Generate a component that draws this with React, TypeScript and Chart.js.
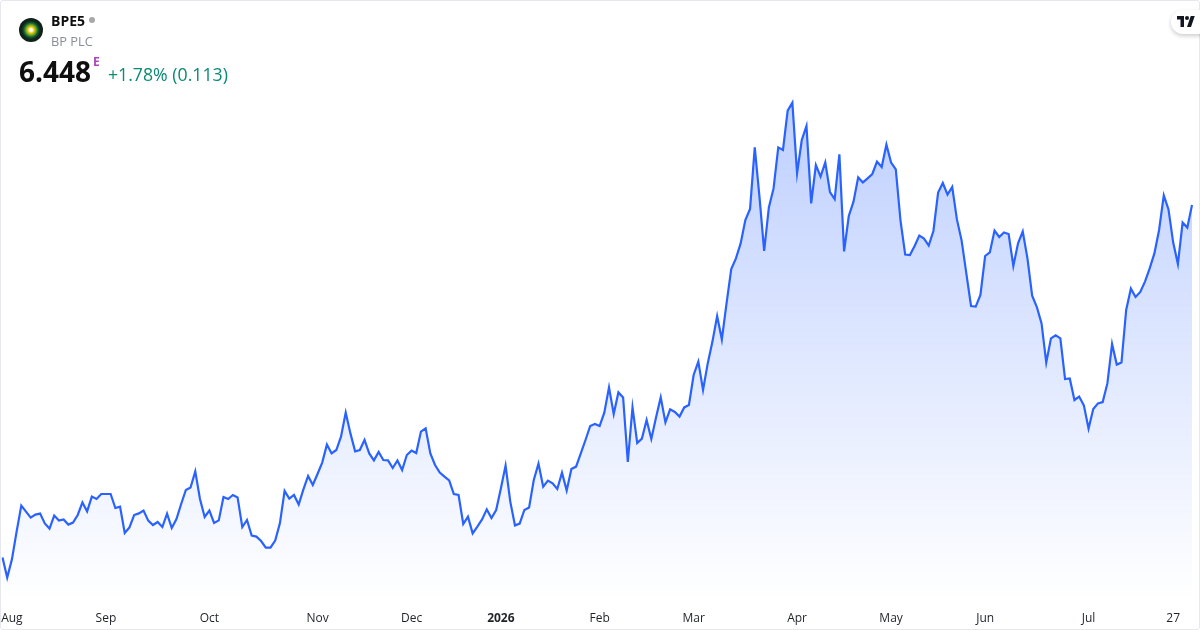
import React, { useEffect, useRef } from "react";
import { Chart, registerables } from "chart.js";

Chart.register(...registerables);

const closePrices = [
  4.686, 4.585, 4.676, 4.815, 4.945, 4.915, 4.885, 4.900, 4.905, 4.856, 4.830, 4.895, 4.870, 4.876, 4.850, 4.860,
  4.898, 4.961, 4.916, 4.990, 4.978, 5.003, 5.003, 5.003, 4.933, 4.940, 4.808, 4.836, 4.898, 4.906, 4.920, 4.870,
  4.848, 4.863, 4.838, 4.905, 4.833, 4.878, 4.953, 5.023, 5.035, 5.116, 4.978, 4.888, 4.920, 4.858, 4.871, 4.988,
  4.978, 4.998, 4.986, 4.838, 4.873, 4.795, 4.790, 4.768, 4.735, 4.735, 4.770, 4.856, 5.018, 4.980, 4.998, 4.950,
  5.026, 5.093, 5.048, 5.103, 5.160, 5.250, 5.206, 5.223, 5.290, 5.410, 5.306, 5.216, 5.223, 5.273, 5.206, 5.171,
  5.213, 5.173, 5.171, 5.133, 5.171, 5.123, 5.198, 5.220, 5.208, 5.315, 5.331, 5.206, 5.148, 5.110, 5.090, 5.071,
  5.003, 4.998, 4.853, 4.890, 4.806, 4.840, 4.876, 4.926, 4.883, 4.923, 5.031, 5.145, 4.965, 4.846, 4.855, 4.923,
  4.935, 5.073, 5.155, 5.040, 5.070, 5.056, 5.028, 5.110, 5.020, 5.128, 5.140, 5.206, 5.273, 5.343, 5.353, 5.343,
  5.410, 5.536, 5.403, 5.511, 5.486, 5.163, 5.436, 5.258, 5.280, 5.373, 5.278, 5.385, 5.486, 5.361, 5.426, 5.413,
  5.390, 5.436, 5.448, 5.598, 5.665, 5.523, 5.656, 5.765, 5.893, 5.776, 5.956, 6.128, 6.181, 6.256, 6.373, 6.428,
  6.736, 6.490, 6.218, 6.436, 6.531, 6.736, 6.723, 6.920, 6.960, 6.606, 6.773, 6.843, 6.456, 6.648, 6.590, 6.661,
  6.513, 6.478, 6.701, 6.216, 6.393, 6.465, 6.586, 6.561, 6.581, 6.603, 6.665, 6.638, 6.750, 6.660, 6.626, 6.370,
  6.200, 6.198, 6.243, 6.295, 6.280, 6.245, 6.318, 6.510, 6.558, 6.500, 6.538, 6.376, 6.270,
  6.106, 5.943, 5.940, 5.998, 6.193, 6.211, 6.320, 6.288, 6.311, 6.303, 6.143, 6.256, 6.315, 6.181, 5.995, 5.938,
  5.856, 5.660, 5.781, 5.796, 5.781, 5.578, 5.581, 5.473, 5.490, 5.446, 5.330, 5.428, 5.456, 5.463, 5.556, 5.753,
  5.650, 5.660, 5.923, 6.030, 5.988, 6.013, 6.065, 6.131, 6.206, 6.323, 6.496, 6.426, 6.260, 6.153, 6.360, 6.335,
  6.448,
];
const tickIndices = [2, 22, 44, 67, 87, 106, 127, 147, 169, 189, 209, 231, 249];
const tickLabels = ["Aug", "Sep", "Oct", "Nov", "Dec", "2026", "Feb", "Mar", "Apr", "May", "Jun", "Jul", "27"];
const boldTicks = ["2026"];

const FONT = '"Open Sans", "Noto Sans", sans-serif';

export default function App() {
  const ref = useRef<HTMLCanvasElement | null>(null);

  useEffect(() => {
    const canvas = ref.current;
    if (!canvas) return;
    const categories = closePrices.map((_, i) => {
      const t = tickIndices.indexOf(i);
      return t >= 0 ? tickLabels[t] : "";
    });
    const chart = new Chart(canvas, {
      type: "line",
      data: {
        labels: categories,
        datasets: [
          {
            data: closePrices,
            borderColor: "#2962FF",
            borderWidth: 2.2,
            pointRadius: 0,
            tension: 0,
            fill: "start",
            borderJoinStyle: "miter",
            backgroundColor: (ctx: any) => {
              const { chart: c } = ctx;
              const area = c.chartArea;
              if (!area) return "rgba(41,98,255,0.3)";
              const top = c.scales.y.getPixelForValue(Math.max(...closePrices));
              const g = c.ctx.createLinearGradient(0, top, 0, area.bottom);
              g.addColorStop(0, "rgba(41,98,255,0.3)");
              g.addColorStop(1, "rgba(41,98,255,0)");
              return g;
            },
          },
        ],
      },
      options: {
        animation: false,
        responsive: false,
        devicePixelRatio: 1,
        layout: { padding: { left: 2.5, right: 8, top: 0, bottom: 0 } },
        plugins: { legend: { display: false }, tooltip: { enabled: false } },
        scales: {
          y: { display: false, min: 4.473, max: 7.473 },
          x: {
            offset: false,
            afterFit: (s: any) => {
              s.height = 30;
              s.paddingLeft = 0;
              s.paddingRight = 0;
            },
            grid: { display: false, drawTicks: false },
            border: { display: false },
            ticks: {
              autoSkip: false,
              maxRotation: 0,
              minRotation: 0,
              padding: 11,
              color: "#1f2229",
              font: (ctx: any) => ({
                family: FONT,
                size: 12,
                weight: boldTicks.includes(ctx.tick?.label) ? "700" : "400",
              }),
            },
          },
        },
      },
    });
    return () => chart.destroy();
  }, []);

  const abs = (s: React.CSSProperties): React.CSSProperties => ({
    position: "absolute",
    whiteSpace: "nowrap",
    fontFamily: FONT,
    ...s,
  });

  return (
    <div
      style={{
        position: "fixed",
        left: 0,
        top: 0,
        width: 1200,
        height: 630,
        background: "#fff",
        overflow: "hidden",
      }}
    >
      <canvas ref={ref} width={1200} height={630} style={{ position: "absolute", left: 0, top: 0, display: "block" }} />
      <div
        style={{
          position: "absolute",
          inset: 0,
          boxSizing: "border-box",
          border: "1px solid #e6e8ee",
          borderRadius: 3,
          pointerEvents: "none",
        }}
      />
      <div
        style={{
          position: "absolute",
          left: 19,
          top: 18,
          width: 24,
          height: 24,
          borderRadius: "50%",
          background:
            "radial-gradient(circle, #fff 0 8%, #f0c814 18%, #6fa81c 30%, #0f5f30 42%, #10251c 54%, #0c1413 100%)",
        }}
      />
      <div style={abs({ left: 51, top: 12, fontSize: 14, lineHeight: "18px", fontWeight: 700, color: "#0f0f0f" })}>BPE5</div>
      <div style={{ position: "absolute", left: 89, top: 17, width: 6, height: 6, borderRadius: "50%", background: "#a8a8a8" }} />
      <div style={abs({ left: 51, top: 32, fontSize: 12.8, lineHeight: "18px", color: "#8a8e99" })}>BP PLC</div>
      <div style={abs({ left: 19, top: 52, fontSize: 28, lineHeight: "38px", fontWeight: 700, color: "#0f0f0f" })}>6.448</div>
      <div style={abs({ left: 93, top: 55, fontSize: 12, lineHeight: "14px", fontWeight: 700, color: "#ab47bc" })}>E</div>
      <div style={abs({ left: 108, top: 61, fontSize: 17.7, lineHeight: "26px", color: "#0b8a72" })}>+1.78% (0.113)</div>
      <div
        style={{
          position: "absolute",
          left: 1171,
          top: 10,
          width: 40,
          height: 24,
          borderRadius: 12,
          background: "#fff",
          boxShadow: "0 2px 4px rgba(0,0,0,0.2)",
        }}
      />
      <svg style={{ position: "absolute", left: 1177, top: 16 }} width="18" height="11" viewBox="0 0 36 22">
        <path d="M14 22H7V7H0V0h14v22zM28 22h-8L27.5 0h8L28 22z" fill="#131722" />
        <circle cx="20" cy="4" r="4" fill="#131722" />
      </svg>
    </div>
  );
}
